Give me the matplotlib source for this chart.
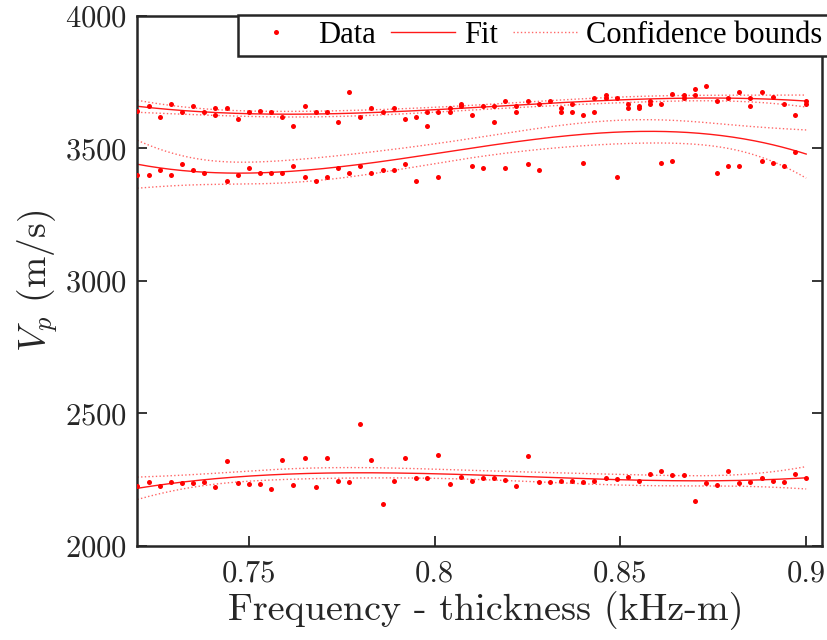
import matplotlib
matplotlib.use('Agg')
import matplotlib.pyplot as plt
import numpy as np

# frequency-thickness grid (kHz-m)
ft = np.array([
    0.720, 0.723, 0.726, 0.729, 0.732, 0.735, 0.738, 0.741, 0.744, 0.747,
    0.750, 0.753, 0.756, 0.759, 0.762, 0.765, 0.768, 0.771, 0.774, 0.777,
    0.780, 0.783, 0.786, 0.789, 0.792, 0.795, 0.798, 0.801, 0.804, 0.807,
    0.810, 0.813, 0.816, 0.819, 0.822, 0.825, 0.828, 0.831, 0.834, 0.837,
    0.840, 0.843, 0.846, 0.849, 0.852, 0.855, 0.858, 0.861, 0.864, 0.867,
    0.870, 0.873, 0.876, 0.879, 0.882, 0.885, 0.888, 0.891, 0.894, 0.897,
    0.900])

# Vp picks (m/s), three modes per frequency
vp_mode1 = np.array([
    3643, 3660, 3618, 3669, 3636, 3660, 3636, 3651, 3651, 3611,
    3636, 3643, 3636, 3618, 3583, 3660, 3636, 3636, 3599, 3713,
    3618, 3651, 3636, 3651, 3611, 3618, 3636, 3636, 3651, 3669,
    3627, 3660, 3660, 3680, 3660, 3680, 3669, 3680, 3651, 3669,
    3627, 3689, 3700, 3689, 3669, 3660, 3680, 3669, 3705, 3700,
    3725, 3734, 3680, 3689, 3713, 3689, 3713, 3696, 3669, 3627,
    3680], dtype=float)

vp_mode2 = np.array([
    3401, 3401, 3417, 3401, 3441, 3417, 3408, 3627, 3379, 3401,
    3425, 3408, 3408, 3408, 3432, 3392, 3379, 3392, 3425, 3408,
    3432, 3408, 3417, 3417, 3441, 3379, 3583, 3392, 3636, 3660,
    3432, 3425, 3599, 3425, 3636, 3441, 3417, np.nan, 3636, 3636,
    3445, 3636, 3689, 3392, 3651, 3651, 3669, 3445, 3452, 3689,
    3700, np.nan, 3408, 3432, 3432, 3660, 3452, 3445, 3432, 3485,
    3669], dtype=float)

vp_mode3 = np.array([
    2228, 2242, 2225, 2242, 2238, 2238, 2242, 2221, 2319, 2237,
    2233, 2233, 2213, 2323, 2230, 2331, 2221, 2331, 2246, 2242,
    2461, 2326, 2157, 2246, 2331, 2257, 2257, 2344, 2233, 2262,
    2246, 2258, 2258, 2250, 2225, 2339, 2242, 2242, 2246, 2246,
    2242, 2246, 2257, 2253, 2262, 2246, 2270, 2282, 2266, 2266,
    2169, 2237, 2230, 2282, 2237, 2242, 2257, 2246, 2242, 2270,
    2257], dtype=float)

xtick_vals = [0.75, 0.8, 0.85, 0.9]
xtick_labels = ['0.75', '0.8', '0.85', '0.9']
ytick_vals = [2000, 2500, 3000, 3500, 4000]


def poly_fit(x, y, xg, deg=3, t=2.0):
    m = ~np.isnan(y)
    x0 = x[m].mean()
    X = np.vander(x[m] - x0, deg + 1)
    coef = np.linalg.lstsq(X, y[m], rcond=None)[0]
    dof = m.sum() - (deg + 1)
    s2 = np.sum((y[m] - X @ coef) ** 2) / dof
    cov = s2 * np.linalg.inv(X.T @ X)
    Xg = np.vander(xg - x0, deg + 1)
    yhat = Xg @ coef
    se = np.sqrt(np.einsum('ij,jk,ik->i', Xg, cov, Xg))
    return yhat, yhat - t * se, yhat + t * se


# latex-looking axes text, Times-like legend
plt.rcParams['font.family'] = ['cmr10', 'DejaVu Serif']
plt.rcParams['mathtext.fontset'] = 'cm'
plt.rcParams['axes.formatter.use_mathtext'] = True

fig = plt.figure(figsize=(8.28, 6.4), dpi=100)
ax = fig.add_axes([0.1655, 0.147, 0.827, 0.828])

xg = np.linspace(ft.min(), ft.max(), 300)
red = '#ff0000'
for i, vp in enumerate([vp_mode1, vp_mode2, vp_mode3]):
    ax.plot(ft, vp, 'o', ms=3.6, mfc=red, mec='none',
            label='Data' if i == 0 else None, zorder=3)
    yhat, lo, hi = poly_fit(ft, vp, xg)
    ax.plot(xg, yhat, '-', c=red, lw=1.0, alpha=0.9,
            label='Fit' if i == 0 else None)
    ax.plot(xg, lo, ':', c=red, lw=1.0, alpha=0.6,
            label='Confidence bounds' if i == 0 else None)
    ax.plot(xg, hi, ':', c=red, lw=1.0, alpha=0.6)

ax.set_xlim(0.7199, 0.9042)
ax.set_ylim(2000, 4000)
ax.set_xticks(xtick_vals)
ax.set_xticklabels(xtick_labels)
ax.set_yticks(ytick_vals)

for sp in ax.spines.values():
    sp.set_linewidth(1.8)
    sp.set_color('#262626')
ax.tick_params(direction='in', length=7, width=1.3, color='#262626',
               labelcolor='#262626', labelsize=22, top=True, right=True,
               pad=7)
ax.tick_params(axis='x', pad=10)

ax.set_xlabel('Frequency - thickness (kHz-m)', fontsize=27.5,
              color='#262626', labelpad=2)
ax.xaxis.set_label_coords(0.509, -0.085)
ax.set_ylabel(r'$V_p$ (m/s)', fontsize=27, color='#262626', labelpad=4)

leg = ax.legend(loc='upper right', bbox_to_anchor=(1.001, 0.977),
                bbox_transform=fig.transFigure, ncol=3,
                prop={'family': 'Liberation Serif', 'size': 22},
                frameon=True, fancybox=False, borderaxespad=0,
                handlelength=2.1, handletextpad=0.3, columnspacing=0.5,
                borderpad=0.2, framealpha=1)
leg.get_frame().set_edgecolor('#262626')
leg.get_frame().set_linewidth(1.8)

fig.savefig('out.png', dpi=100)
